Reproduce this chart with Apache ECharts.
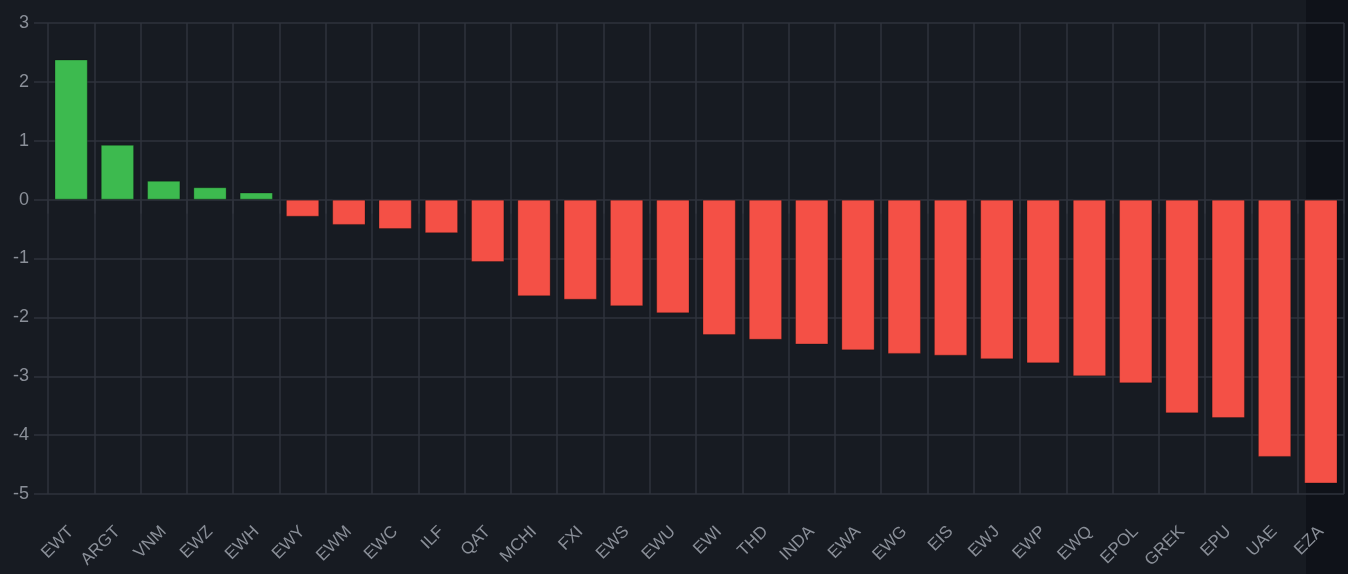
<!DOCTYPE html>
<html>
<head>
<meta charset="utf-8">
<script src="https://cdn.jsdelivr.net/npm/echarts@6/dist/echarts.min.js"></script>
<style>
  html, body { margin: 0; padding: 0; background: #171b22; }
  #chart { width: 1348px; height: 574px; }
</style>
</head>
<body>
<div id="chart"></div>
<script>
const tickers = ['EWT', 'ARGT', 'VNM', 'EWZ', 'EWH', 'EWY', 'EWM', 'EWC', 'ILF', 'QAT',
  'MCHI', 'FXI', 'EWS', 'EWU', 'EWI', 'THD', 'INDA', 'EWA', 'EWG', 'EIS',
  'EWJ', 'EWP', 'EWQ', 'EPOL', 'GREK', 'EPU', 'UAE', 'EZA'];
const returns = [2.38, 0.93, 0.32, 0.21, 0.12, -0.29, -0.43, -0.5, -0.57, -1.06,
  -1.64, -1.7, -1.81, -1.93, -2.3, -2.38, -2.46, -2.56, -2.62, -2.65,
  -2.71, -2.78, -3.0, -3.12, -3.63, -3.71, -4.37, -4.82];

const gridColor = '#2f333c';
const textColor = '#8a8f98';

const chart = echarts.init(document.getElementById('chart'));

chart.setOption({
  backgroundColor: '#171b22',
  animation: false,
  graphic: [{
    type: 'rect',
    z: -10,
    shape: { x: 1306, y: 0, width: 42, height: 574 },
    style: { fill: '#0f1219' },
  }],
  grid: { left: 48, right: 4, top: 23, bottom: 80 },
  xAxis: {
    type: 'category',
    data: tickers,
    axisLine: { show: false },
    axisTick: { show: true, length: 14, lineStyle: { color: gridColor, width: 1.5 } },
    splitLine: { show: true, lineStyle: { color: gridColor, width: 1.5 } },
    axisLabel: {
      color: textColor,
      fontFamily: 'Liberation Sans',
      fontSize: 17,
      rotate: 45,
      margin: 35,
    },
  },
  yAxis: {
    type: 'value',
    min: -5,
    max: 3,
    interval: 1,
    axisLine: { show: false },
    axisTick: { show: true, length: 14, lineStyle: { color: gridColor, width: 1.5 } },
    splitLine: { lineStyle: { color: gridColor, width: 1.5 } },
    axisLabel: {
      color: textColor,
      fontFamily: 'Liberation Sans',
      fontSize: 18,
      margin: 19,
    },
  },
  series: [{
    type: 'bar',
    data: returns.map((v) => ({
      value: v,
      itemStyle: { color: v >= 0 ? '#3dba4f' : '#f45046' },
    })),
    barCategoryGap: '28%',
    itemStyle: { borderColor: 'rgba(0,0,0,0.25)', borderWidth: 1 },
  }],
});
</script>
</body>
</html>
